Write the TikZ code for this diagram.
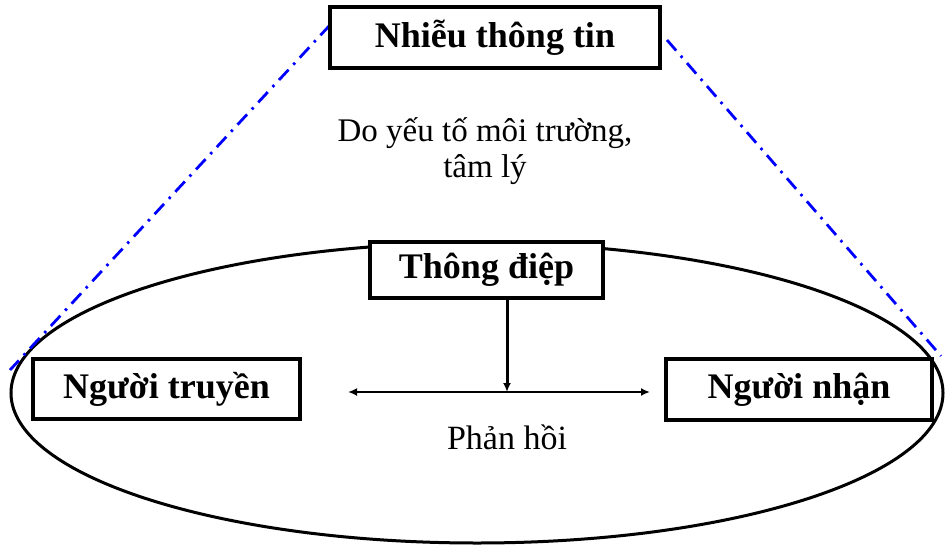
\documentclass[tikz,border=0pt]{standalone}
\usepackage{fontspec}
\setmainfont{Liberation Serif}
\usetikzlibrary{shapes.geometric,arrows.meta}
\begin{document}
\begin{tikzpicture}[x=1pt,y=-1pt,
  bbox/.style={draw=black,line width=4pt,fill=white,inner sep=0pt,font=\fontsize{36}{40}\selectfont\bfseries},
  plain/.style={font=\fontsize{33}{36}\selectfont,align=center,inner sep=0pt},
  conn/.style={line width=3pt,-{Latex[length=9pt,width=8pt]}},
  blueline/.style={draw=blue,line width=2.8pt,dash pattern=on 14pt off 7pt on 2.5pt off 7pt}]
\useasboundingbox (0,0) rectangle (945,546);
\node[draw=black,line width=3pt,ellipse,minimum width=932pt,minimum height=300pt,inner sep=0pt] (ell) at (477,393) {};
\coordinate (bl1) at (330,25);
\coordinate (bl2) at (10,370);
\coordinate (br1) at (667,40);
\coordinate (br2) at (941,356);
\draw[blueline] (bl1) -- (bl2);
\draw[blueline] (br1) -- (br2);
\node[bbox,minimum width=330pt,minimum height=61pt] (noise) at (495,37.5) {\raisebox{-2pt}{Nhiễu thông tin}};
\node[plain] (cause) at (485,151) {Do yếu tố môi trường,\\tâm lý};
\node[bbox,minimum width=233pt,minimum height=56pt] (msg) at (486.5,270) {Thông điệp};
\node[bbox,minimum width=267pt,minimum height=60pt] (send) at (166.5,389) {Người truyền};
\node[bbox,minimum width=266pt,minimum height=61pt] (recv) at (799,389.5) {Người nhận};
\coordinate (hl) at (348,392);
\coordinate (hr) at (650,392);
\coordinate (hm) at (507,392);
\draw[line width=2.6pt,{Latex[length=9pt,width=8pt]}-{Latex[length=9pt,width=8pt]}] (hl) -- (hr);
\draw[conn] (msg.south -| hm) -- (hm);
\node[plain,font=\fontsize{34}{38}\selectfont] (fb) at (507,437) {Phản hồi};
\end{tikzpicture}
\end{document}
